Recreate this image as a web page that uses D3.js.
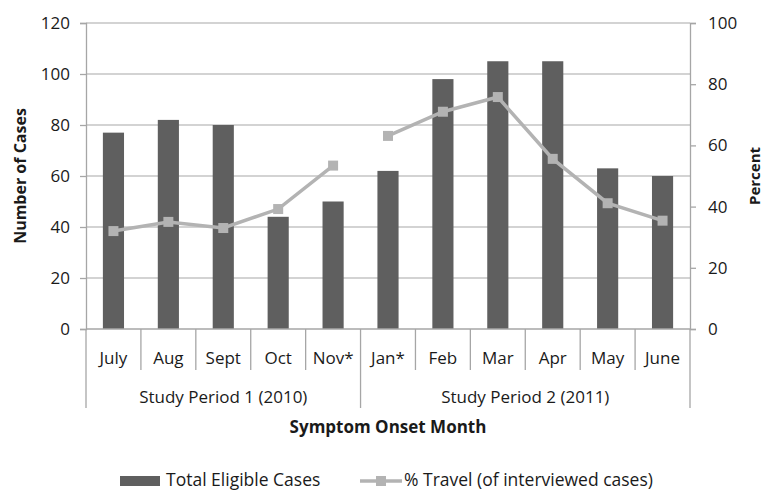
<!DOCTYPE html>
<html>
<head>
<meta charset="utf-8">
<script src="https://cdn.jsdelivr.net/npm/d3@7"></script>
<style>
  body { margin: 0; background: #fff; }
  text { font-family: "Open Sans", sans-serif; fill: #1a1a1a; }
</style>
</head>
<body>
<div id="chart"></div>
<script>
// data
var months = ["July", "Aug", "Sept", "Oct", "Nov*", "Jan*", "Feb", "Mar", "Apr", "May", "June"];
var periods = ["Study Period 1 (2010)", "Study Period 2 (2011)"];
var periodOf = [0, 0, 0, 0, 0, 1, 1, 1, 1, 1, 1];
var totalCases = [77, 82, 80, 44, 50, 62, 98, 105, 105, 63, 60];
var pctTravel = [32, 35, 33, 39.2, 53.4, 63.1, 71, 75.8, 55.6, 41.1, 35.4];
var leftTicks = [0, 20, 40, 60, 80, 100, 120];
var rightTicks = [0, 20, 40, 60, 80, 100];

var W = 766, H = 491;
var margin = {top: 23, right: 76, bottom: 162, left: 86};
var width = W - margin.left - margin.right,
    height = H - margin.top - margin.bottom;

var svg = d3.select("#chart").append("svg")
  .attr("width", W).attr("height", H);
var g = svg.append("g")
  .attr("transform", "translate(" + margin.left + "," + margin.top + ")");

var x = d3.scaleBand().domain(months).range([0, width]).padding(0);
var y = d3.scaleLinear().domain([0, 120]).range([height, 0]);
var y2 = d3.scaleLinear().domain([0, 100]).range([height, 0]);

var gridColor = "#c4c4c4", axisColor = "#a6a6a6";
var fs = "17px";

// gridlines
g.append("g").selectAll("line")
  .data(leftTicks.filter(function(d){ return d > 0; }))
  .join("line")
    .attr("x1", 0).attr("x2", width)
    .attr("y1", function(d){ return y(d); })
    .attr("y2", function(d){ return y(d); })
    .attr("stroke", gridColor).attr("stroke-width", 1.3);

// left axis
var yAxis = g.append("g")
  .call(d3.axisLeft(y).tickValues(leftTicks).tickSize(6).tickPadding(10));
yAxis.selectAll("line, path").attr("stroke", axisColor).attr("stroke-width", 1.3);
yAxis.selectAll("text").style("font-size", fs).style("font-family", "'Open Sans', sans-serif").attr("fill", "#1a1a1a");

// right axis
var y2Axis = g.append("g")
  .attr("transform", "translate(" + width + ",0)")
  .call(d3.axisRight(y2).tickValues(rightTicks).tickSize(6).tickPadding(12));
y2Axis.selectAll("line, path").attr("stroke", axisColor).attr("stroke-width", 1.3);
y2Axis.selectAll("text").style("font-size", fs).style("font-family", "'Open Sans', sans-serif").attr("fill", "#1a1a1a");

// bars
var barW = x.bandwidth() * 0.385;
g.append("g").selectAll("rect")
  .data(totalCases)
  .join("rect")
    .attr("x", function(d, i){ return x(months[i]) + (x.bandwidth() - barW) / 2; })
    .attr("y", function(d){ return y(d); })
    .attr("width", barW)
    .attr("height", function(d){ return height - y(d); })
    .attr("fill", "#5f5f5f");

// x axis baseline and separators
g.append("line")
  .attr("x1", 0).attr("x2", width).attr("y1", height).attr("y2", height)
  .attr("stroke", axisColor).attr("stroke-width", 1.3);

var seps = d3.range(months.length + 1);
g.append("g").selectAll("line")
  .data(seps)
  .join("line")
    .attr("x1", function(i){ return i * x.step(); })
    .attr("x2", function(i){ return i * x.step(); })
    .attr("y1", height)
    .attr("y2", function(i){
      var isGroup = i === 0 || i === months.length || periodOf[i] !== periodOf[i - 1];
      return height + (isGroup ? 79 : 41);
    })
    .attr("stroke", axisColor).attr("stroke-width", 1.3);

// month labels
g.append("g").selectAll("text")
  .data(months)
  .join("text")
    .attr("x", function(d){ return x(d) + x.bandwidth() / 2; })
    .attr("y", height + 35)
    .attr("text-anchor", "middle")
    .style("font-size", fs)
    .text(function(d){ return d; });

// period labels
g.append("g").selectAll("text")
  .data(periods)
  .join("text")
    .attr("x", function(p, k){
      var idx = months.filter(function(m, i){ return periodOf[i] === k; });
      return (x(idx[0]) + x(idx[idx.length - 1]) + x.bandwidth()) / 2;
    })
    .attr("y", height + 74)
    .attr("text-anchor", "middle")
    .style("font-size", fs)
    .text(function(d){ return d; });

// line series, broken between periods
var line = d3.line()
  .x(function(d){ return x(d.m) + x.bandwidth() / 2; })
  .y(function(d){ return y2(d.v); });
var pts = months.map(function(m, i){ return {m: m, v: pctTravel[i], p: periodOf[i]}; });
var lineColor = "#b3b3b3";
periods.forEach(function(p, k){
  g.append("path")
    .datum(pts.filter(function(d){ return d.p === k; }))
    .attr("d", line)
    .attr("fill", "none")
    .attr("stroke", lineColor)
    .attr("stroke-width", 3.5);
});
var ms = 10;
g.append("g").selectAll("rect")
  .data(pts)
  .join("rect")
    .attr("x", function(d){ return x(d.m) + x.bandwidth() / 2 - ms / 2; })
    .attr("y", function(d){ return y2(d.v) - ms / 2; })
    .attr("width", ms).attr("height", ms)
    .attr("fill", lineColor);

// axis titles
svg.append("text")
  .attr("transform", "translate(26," + (margin.top + height / 2) + ") rotate(-90)")
  .attr("text-anchor", "middle")
  .style("font-size", "16px").style("font-weight", "bold")
  .text("Number of Cases");
svg.append("text")
  .attr("transform", "translate(760," + (margin.top + height / 2) + ") rotate(-90)")
  .attr("text-anchor", "middle")
  .style("font-size", "15px").style("font-weight", "bold")
  .text("Percent");
svg.append("text")
  .attr("x", margin.left + width / 2).attr("y", 433)
  .attr("text-anchor", "middle")
  .style("font-size", "17px").style("font-weight", "bold")
  .text("Symptom Onset Month");

// legend
var leg = svg.append("g");
leg.append("rect").attr("x", 120).attr("y", 476).attr("width", 40).attr("height", 10).attr("fill", "#5f5f5f");
leg.append("text").attr("x", 166).attr("y", 486).style("font-size", "17.5px").text("Total Eligible Cases");
leg.append("line").attr("x1", 360).attr("x2", 402).attr("y1", 481).attr("y2", 481)
  .attr("stroke", lineColor).attr("stroke-width", 3.5);
leg.append("rect").attr("x", 376).attr("y", 476).attr("width", 10).attr("height", 10).attr("fill", lineColor);
leg.append("text").attr("x", 404).attr("y", 486).style("font-size", "17.5px").text("% Travel (of interviewed cases)");
</script>
</body>
</html>
